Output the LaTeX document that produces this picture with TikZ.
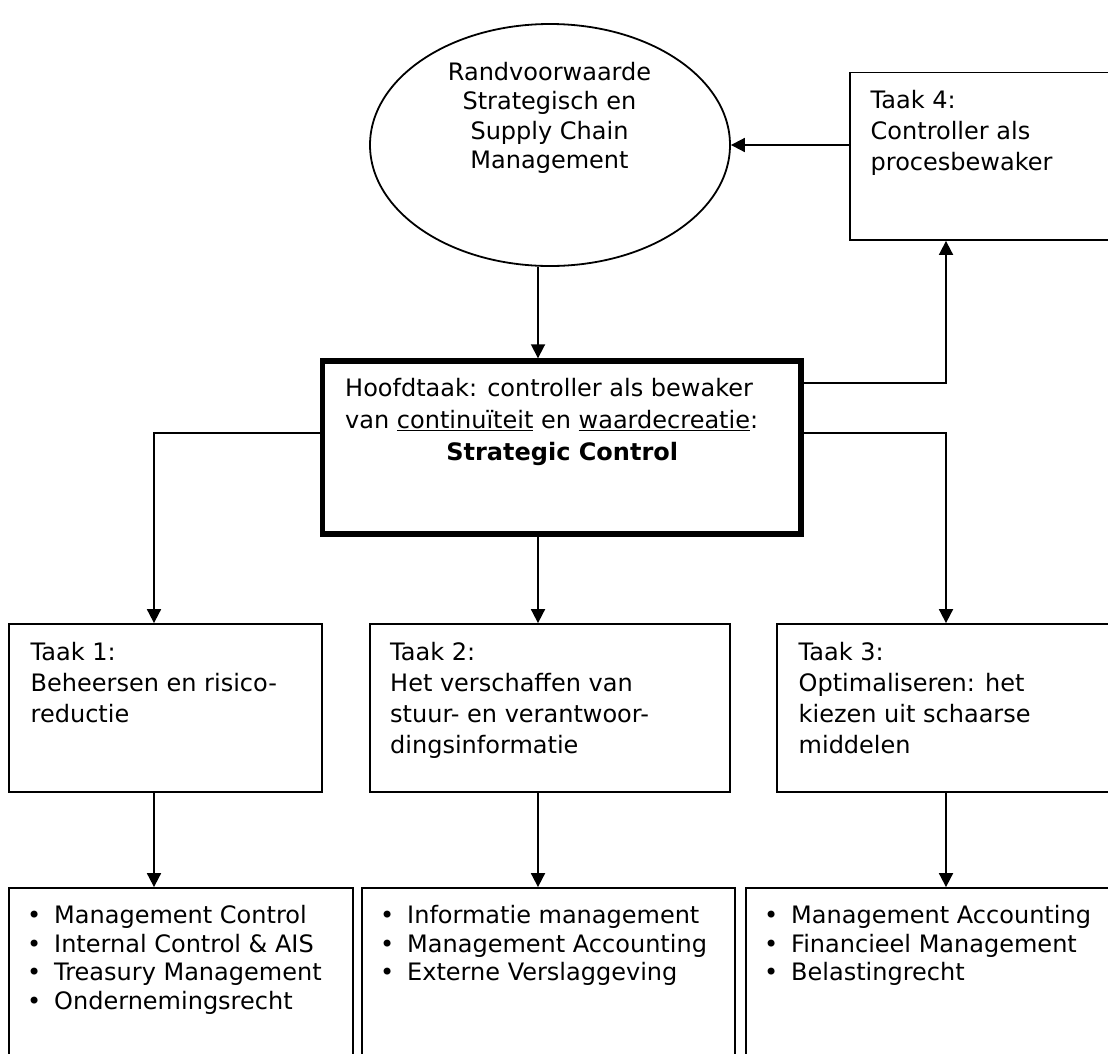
\documentclass[tikz,border=0pt]{standalone}
\usepackage{fontspec}
\setmainfont{DejaVu Sans}
\usetikzlibrary{arrows.meta,shapes.geometric}
\newcommand\tbox[3]{\parbox[t]{#1}{\fontsize{24}{#2}\selectfont\raggedright #3\par}}
\newcommand\cbox[3]{\parbox[t]{#1}{\fontsize{24}{#2}\selectfont\centering #3\par}}
\newcommand\bul[1]{\makebox[27pt][l]{•}#1}
\tikzset{
  boxnode/.style={draw, rectangle, line width=1.8pt, inner sep=0pt},
  txt/.style={anchor=base west, inner sep=0pt},
  arr/.style={line width=1.8pt, -{Triangle[length=14pt,width=14pt]}},
  ln/.style={line width=1.8pt}
}
\begin{document}
\begin{tikzpicture}[x=1pt,y=-1pt]
\useasboundingbox (0,0) rectangle (1108,1053);
\clip (0,0) rectangle (1108,1053);
\fill[white] (0,0) rectangle (1108,1053);

% shapes
\node[draw, ellipse, line width=1.8pt, inner sep=0pt, minimum width=360pt, minimum height=242pt] (ell) at (550,145) {};
\node[boxnode, minimum width=270pt, minimum height=167.5pt] (taak4) at (985,156.25) {};
\node[draw, rectangle, line width=5.6pt, inner sep=0pt, minimum width=478.9pt, minimum height=173.1pt] (hoofd) at (561.75,447.65) {};
\node[boxnode, minimum width=313pt, minimum height=168pt] (taak1) at (165.5,708) {};
\node[boxnode, minimum width=360pt, minimum height=168pt] (taak2) at (550,708) {};
\node[boxnode, minimum width=343pt, minimum height=168pt] (taak3) at (948.5,708) {};
\node[boxnode, minimum width=344pt, minimum height=182pt] (bot1) at (181,979) {};
\node[boxnode, minimum width=373pt, minimum height=182pt] (bot2) at (548.5,979) {};
\node[boxnode, minimum width=374pt, minimum height=182pt] (bot3) at (933,979) {};

% guide coordinates
\coordinate (lx) at (154,0);
\coordinate (mx) at (538,0);
\coordinate (rx) at (946,0);
\coordinate (h1) at (0,383);
\coordinate (h2) at (0,433);

% connectors
\draw[arr] (ell.south -| mx) -- (hoofd.north -| mx);
\draw[arr] (taak4.west |- ell.east) -- (ell.east);
\draw[arr] (hoofd.east |- h1) -| (rx |- taak4.south);
\draw[arr] (hoofd.west |- h2) -| (lx |- taak1.north);
\draw[arr] (hoofd.east |- h2) -| (rx |- taak3.north);
\draw[arr] (hoofd.south -| mx) -- (taak2.north -| mx);
\draw[arr] (taak1.south -| lx) -- (bot1.north -| lx);
\draw[arr] (taak2.south -| mx) -- (bot2.north -| mx);
\draw[arr] (taak3.south -| rx) -- (bot3.north -| rx);

% texts
\node[anchor=base, inner sep=0pt] (tell) at (549.5,80.7) {\cbox{340pt}{29.2pt}{Randvoorwaarde\\Strategisch en\\Supply Chain\\Management}};
\node[txt] (tt4) at (870.5,108.3) {\tbox{300pt}{30.9pt}{Taak 4:\\Controller als\\procesbewaker}};
\node[txt] (thd) at (345,396.7) {\tbox{434pt}{32pt}{Hoofdtaak: controller als bewaker\\van \underline{continuïteit} en \underline{waardecreatie}:\\\makebox[434pt][c]{\bfseries Strategic Control}}};
\node[txt] (tt1) at (30.5,660) {\tbox{400pt}{31.3pt}{Taak 1:\\Beheersen en risico-\\reductie}};
\node[txt] (tt2) at (390,660) {\tbox{400pt}{31.3pt}{Taak 2:\\Het verschaffen van\\stuur- en verantwoor-\\dingsinformatie}};
\node[txt] (tt3) at (798.5,660) {\tbox{400pt}{31.3pt}{Taak 3:\\Optimaliseren: het\\kiezen uit schaarse\\middelen}};
\node[txt] (tb1) at (27,923.5) {\tbox{400pt}{28.7pt}{\bul{Management Control}\\\bul{Internal Control \& AIS}\\\bul{Treasury Management}\\\bul{Ondernemingsrecht}}};
\node[txt] (tb2) at (380,923.5) {\tbox{400pt}{28.7pt}{\bul{Informatie management}\\\bul{Management Accounting}\\\bul{Externe Verslaggeving}}};
\node[txt] (tb3) at (764,923.5) {\tbox{400pt}{28.7pt}{\bul{Management Accounting}\\\bul{Financieel Management}\\\bul{Belastingrecht}}};
\end{tikzpicture}
\end{document}
